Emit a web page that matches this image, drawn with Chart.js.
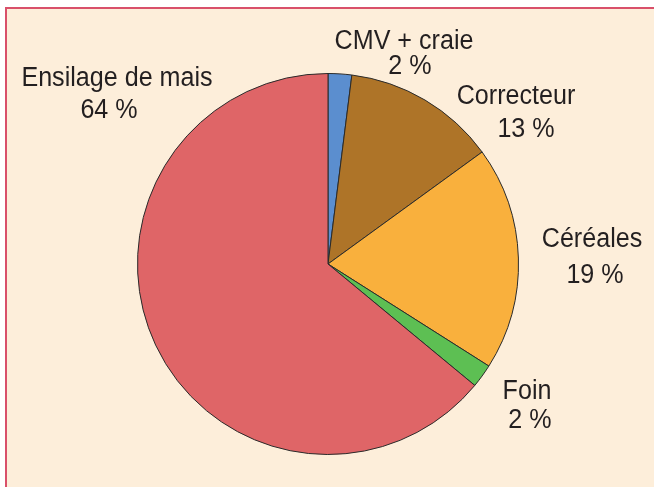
<!DOCTYPE html>
<html>
<head>
<meta charset="utf-8">
<script src="https://cdn.jsdelivr.net/npm/chart.js@4"></script>
<style>
  html, body { margin: 0; padding: 0; background: #fff; }
  .frame {
    position: absolute; left: 5px; top: 7px; right: 0; bottom: 0;
    background: #FDEEDA;
    border-top: 2px solid #D9506A;
    border-left: 2px solid #D9506A;
  }
  #chart { position: absolute; left: 0; top: 0; }
</style>
</head>
<body>
<div class="frame"></div>
<canvas id="chart" width="654" height="487"></canvas>
<script>
// ration components, clockwise from 12 o'clock
const categories = ["CMV + craie", "Correcteur", "Céréales", "Foin", "Ensilage de mais"];
const shares = [2, 13, 19, 2, 64];
const sliceColors = ["#5B8ECF", "#AE7428", "#F9B03D", "#5DBF53", "#DF6567"];

// label line anchors (centre x, baseline y), offset from the pie centre
const labelLayout = [
  [[76, -215], [82, -190]],
  [[188, -160], [198, -127]],
  [[264, -17], [267, 19]],
  [[199, 135], [202, 164]],
  [[-211, -178], [-219, -146]]
];

const pieLabels = {
  id: "pieLabels",
  afterDraw(chart) {
    const arc = chart.getDatasetMeta(0).data[0];
    const ctx = chart.ctx;
    ctx.save();
    ctx.fillStyle = "#231F20";
    ctx.font = "27px 'Liberation Sans', Arial, sans-serif";
    ctx.textAlign = "center";
    ctx.textBaseline = "alphabetic";
    categories.forEach((name, i) => {
      const lines = [name, shares[i] + " %"];
      lines.forEach((txt, j) => {
        const [dx, dy] = labelLayout[i][j];
        ctx.save();
        ctx.translate(arc.x + dx, arc.y + dy);
        ctx.scale(0.93, 1);
        ctx.fillText(txt, 0, 0);
        ctx.restore();
      });
    });
    ctx.restore();
  }
};

new Chart(document.getElementById("chart"), {
  type: "pie",
  data: {
    labels: categories,
    datasets: [{
      data: shares,
      backgroundColor: sliceColors,
      borderColor: "#2a2a2a",
      borderWidth: 1
    }]
  },
  options: {
    responsive: false,
    animation: false,
    layout: { padding: { top: 73, bottom: 32, left: 137, right: 135 } },
    plugins: {
      legend: { display: false },
      tooltip: { enabled: false }
    }
  },
  plugins: [pieLabels]
});
</script>
</body>
</html>
